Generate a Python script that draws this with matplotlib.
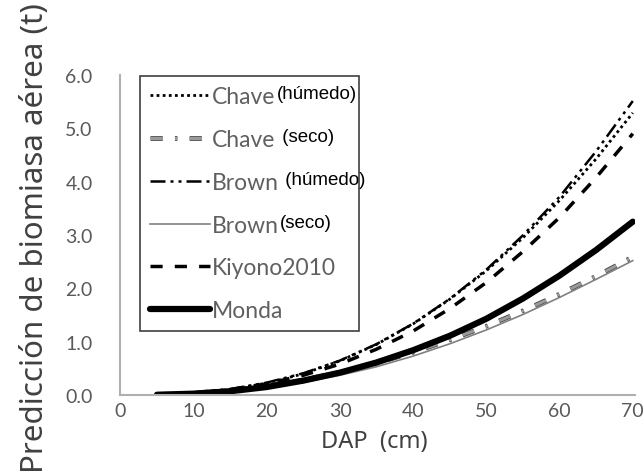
import numpy as np
import matplotlib.pyplot as plt
import matplotlib.patheffects as pe

# DAP (cm)
dap = [5, 10, 15, 20, 25, 30, 35, 40, 45, 50, 55, 60, 65, 70]

# biomasa aerea predicha (t)
chave_humedo = [0.006, 0.035, 0.104, 0.222, 0.399, 0.640, 0.949, 1.334, 1.796, 2.33, 2.95, 3.65, 4.43, 5.29]
chave_seco = [0.007, 0.035, 0.089, 0.171, 0.284, 0.426, 0.598, 0.800, 1.033, 1.289, 1.578, 1.890, 2.227, 2.589]
brown_humedo = [0.007, 0.040, 0.112, 0.232, 0.408, 0.646, 0.955, 1.339, 1.803, 2.351, 2.995, 3.717, 4.572, 5.512]
brown_seco = [0.010, 0.020, 0.060, 0.130, 0.235, 0.370, 0.530, 0.730, 0.960, 1.220, 1.510, 1.830, 2.170, 2.520]
kiyono = [0.006, 0.036, 0.100, 0.210, 0.370, 0.580, 0.860, 1.200, 1.620, 2.110, 2.690, 3.330, 4.080, 4.900]
monda = [0.005, 0.025, 0.070, 0.150, 0.270, 0.420, 0.610, 0.840, 1.110, 1.430, 1.810, 2.240, 2.720, 3.250]

fig = plt.figure(figsize=(6.44, 4.77), dpi=100)
ax = fig.add_axes([120.4 / 644, 1 - 396 / 477, (635 - 120.4) / 644, (396 - 76) / 477])

l1, = ax.plot(dap, chave_humedo, color="black", lw=2, linestyle=(0, (1, 1.2)))
l2, = ax.plot(dap, chave_seco, color="#9a9a9a", lw=2.2, linestyle=(0, (4, 4, 0.8, 4)),
              path_effects=[pe.Stroke(linewidth=3.4, foreground="#444444"), pe.Normal()])
l3, = ax.plot(dap, brown_humedo, color="black", lw=1.8, linestyle=(0, (6, 2, 1.2, 2, 1.2, 2)))
l4, = ax.plot(dap, brown_seco, color="#808080", lw=1.2)
l5, = ax.plot(dap, kiyono, color="black", lw=2.5, linestyle=(0, (3.5, 3.5)))
l6, = ax.plot(dap, monda, color="black", lw=4.5, solid_capstyle="round")

ax.set_xlim(0, 70.3)
ax.set_ylim(0, 6)
ax.set_xticks(range(0, 71, 10))
ax.set_yticks(np.arange(0, 6.1, 1))
ax.set_yticklabels([f"{v:.1f}" for v in np.arange(0, 6.1, 1)])
ax.tick_params(length=0, labelsize=14, labelcolor="#595959")
ax.tick_params(axis="x", pad=5)
ax.tick_params(axis="y", pad=20)
for lab in ax.get_xticklabels() + ax.get_yticklabels():
    lab.set_fontfamily("Lato")

for s in ["top", "right"]:
    ax.spines[s].set_visible(False)
for s in ["left", "bottom"]:
    ax.spines[s].set_color("#b0b0b0")
    ax.spines[s].set_linewidth(1.5)

fig.text(374 / 644, 1 - 442 / 477, "DAP  (cm)", ha="center", va="center",
         fontsize=17, color="#404040", family="Noto Sans")
fig.text(35 / 644, 1 - 238 / 477, "Predicción de biomiasa aérea (t)", ha="center", va="center",
         rotation=90, fontsize=22.5, color="#404040", family="Noto Sans")

labels = ["Chave", "Chave", "Brown", "Brown", "Kiyono2010", "Monda"]
extras = ["(húmedo)", " (seco)", " (húmedo)", "(seco)", "", ""]
leg = ax.legend([l1, l2, l3, l4, l5, l6], labels,
                loc="upper left", bbox_to_anchor=(140 / 644, 1 - 333 / 477, 219 / 644, 256 / 477),
                bbox_transform=fig.transFigure, mode="expand", borderaxespad=0,
                fancybox=False, frameon=True, edgecolor="#404040", framealpha=1,
                handlelength=2.6, handletextpad=0.1, labelspacing=0.95, borderpad=0.45,
                prop={"family": "Lato", "size": 16.5})
leg.get_frame().set_linewidth(1.2)
for t in leg.get_texts():
    t.set_color("#606060")

fig.canvas.draw()
inv = fig.transFigure.inverted()
for t, extra in zip(leg.get_texts(), extras):
    if not extra:
        continue
    bb = t.get_window_extent()
    x, y = inv.transform((bb.x1 + 1, (bb.y0 + bb.y1) / 2 + 3))
    fig.text(x, y, extra, ha="left", va="center", fontsize=13.5,
             color="black", family="Liberation Sans")

fig.savefig("out.png", dpi=100)
